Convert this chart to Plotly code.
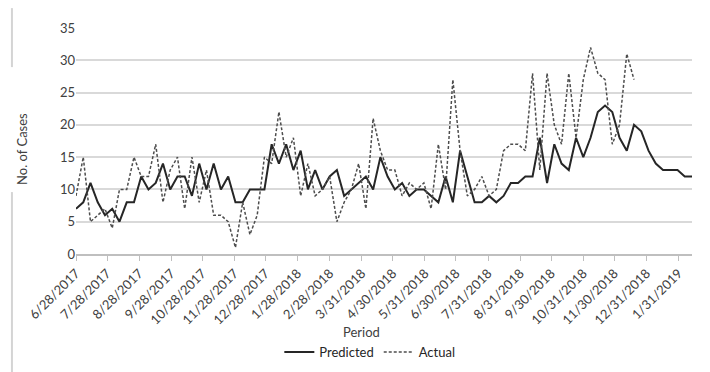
import pandas as pd
import plotly.graph_objects as go

start_date = "2017-06-28"
predicted = [7, 8, 11, 8, 6, 7, 5, 8, 8, 12, 10, 11, 14, 10, 12, 12, 9, 14, 10, 14,
             10, 12, 8, 8, 10, 10, 10, 17, 14, 17, 13, 16, 10, 13, 10, 12, 13, 9, 10, 11,
             12, 10, 15, 12, 10, 11, 9, 10, 10, 9, 8, 12, 8, 16, 12, 8, 8, 9, 8, 9,
             11, 11, 12, 12, 18, 11, 17, 14, 13, 18, 15, 18, 22, 23, 22, 18, 16, 20, 19, 16,
             14, 13, 13, 13, 12, 12]
actual = [9, 15, 5, 6, 7, 4, 10, 10, 15, 12, 12, 17, 8, 13, 15, 7, 15, 8, 13, 6,
          6, 5, 1, 8, 3, 6, 15, 14, 22, 15, 18, 9, 14, 9, 10, 12, 5, 8, 10, 14,
          7, 21, 16, 13, 13, 9, 11, 10, 11, 7, 17, 10, 27, 16, 9, 10, 12, 9, 10, 16,
          17, 17, 16, 28, 13, 28, 20, 17, 28, 18, 27, 32, 28, 27, 17, 20, 31, 27]
tick_labels = ["6/28/2017", "7/28/2017", "8/28/2017", "9/28/2017", "10/28/2017",
               "11/28/2017", "12/28/2017", "1/28/2018", "2/28/2018", "3/31/2018",
               "4/30/2018", "5/31/2018", "6/30/2018", "7/31/2018", "8/31/2018",
               "9/30/2018", "10/31/2018", "11/30/2018", "12/31/2018", "1/31/2019"]
y_ticks = [0, 5, 10, 15, 20, 25, 30, 35]

dates = pd.date_range(start_date, periods=len(predicted), freq="7D")
tick_dates = pd.to_datetime(tick_labels, format="%m/%d/%Y")

FONT = "Lato, 'Open Sans', sans-serif"
TXT = "#404040"

fig = go.Figure()
fig.add_trace(go.Scatter(x=dates, y=predicted, mode="lines", name="Predicted",
                         line=dict(color="#262626", width=2)))
fig.add_trace(go.Scatter(x=dates[:len(actual)], y=actual, mode="lines", name="Actual",
                         line=dict(color="#4d4d4d", width=1.5, dash="3px,2px")))

# the page body has an 8px default margin, so the figure is sized to fit the window
fig.update_layout(
    width=702, height=364,
    margin=dict(l=68, r=18, t=20, b=118, autoexpand=False),
    paper_bgcolor="white", plot_bgcolor="white",
    font=dict(family=FONT, size=13, color=TXT),
    showlegend=True,
    legend=dict(orientation="h", x=0.477, xanchor="center", y=-0.434, yanchor="middle",
                font=dict(size=13, color="#262626"), itemwidth=30,
                tracegroupgap=0, bgcolor="rgba(0,0,0,0)"),
    xaxis=dict(
        automargin=False,
        range=[dates[0], dates[-1]],
        tickmode="array", tickvals=tick_dates, ticktext=tick_labels,
        tickangle=-45, ticks="outside", ticklen=5, tickcolor="#bfbfbf",
        showgrid=False, showline=True, linecolor="#bfbfbf", linewidth=1.5,
        tickfont=dict(size=13, color=TXT),
        zeroline=False,
    ),
    yaxis=dict(
        automargin=False,
        range=[0, 35], tickmode="array", tickvals=y_ticks,
        showgrid=True, gridcolor="#d9d9d9", gridwidth=1.5,
        zeroline=False, showline=False, ticks="",
        tickfont=dict(size=13, color=TXT),
    ),
    annotations=[
        dict(text="Period", xref="paper", yref="paper", x=0.463, y=-0.345,
             xanchor="center", yanchor="middle", showarrow=False,
             font=dict(size=13, color=TXT)),
        dict(text="No. of Cases", xref="paper", yref="paper", x=-0.0877, y=0.465,
             xanchor="center", yanchor="middle", showarrow=False, textangle=-90,
             font=dict(size=13, color=TXT)),
    ],
    shapes=[
        dict(type="line", xref="paper", yref="paper", x0=-0.104, x1=-0.104,
             y0=1.088, y1=0.827, line=dict(color="#d4d4d4", width=2)),
        dict(type="line", xref="paper", yref="paper", x0=-0.104, x1=-0.104,
             y0=0.274, y1=-0.53, line=dict(color="#d4d4d4", width=2)),
    ],
)

fig.write_html("out.html")
